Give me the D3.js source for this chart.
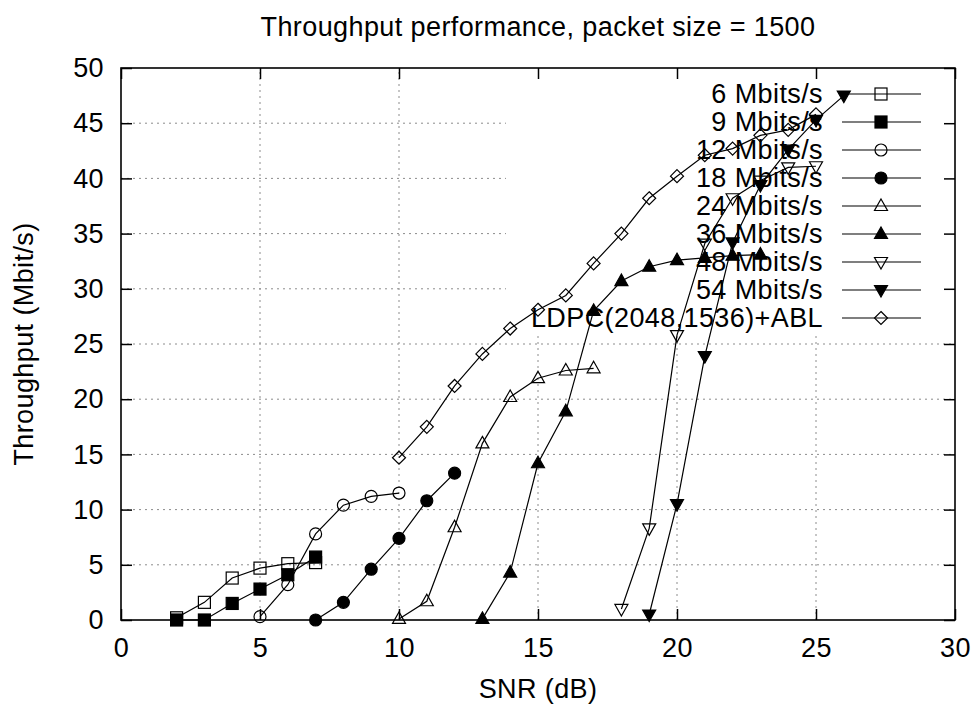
<!DOCTYPE html>
<html>
<head>
<meta charset="utf-8">
<script src="https://cdn.jsdelivr.net/npm/d3@7"></script>
<style>
  body { margin: 0; background: #fff; }
  text { font-family: "Liberation Sans", Arial, sans-serif; font-size: 27px; letter-spacing: 0.4px; fill: #000; }
</style>
</head>
<body>
<div id="chart"></div>
<script>

// values
var seriesNames = ["6 Mbits/s", "9 Mbits/s", "12 Mbits/s", "18 Mbits/s", "24 Mbits/s",
	"36 Mbits/s", "48 Mbits/s", "54 Mbits/s", "LDPC(2048,1536)+ABL"];

var snr6 = [2, 3, 4, 5, 6, 7];
var thr6 = [0.2, 1.6, 3.8, 4.7, 5.1, 5.2];

var snr9 = [2, 3, 4, 5, 6, 7];
var thr9 = [0, 0, 1.5, 2.8, 4.1, 5.7];

var snr12 = [5, 6, 7, 8, 9, 10];
var thr12 = [0.3, 3.2, 7.8, 10.4, 11.2, 11.5];

var snr18 = [7, 8, 9, 10, 11, 12];
var thr18 = [0, 1.6, 4.6, 7.4, 10.8, 13.3];

var snr24 = [10, 11, 12, 13, 14, 15, 16, 17];
var thr24 = [0.1, 1.7, 8.4, 16.0, 20.2, 21.9, 22.6, 22.8];

var snr36 = [13, 14, 15, 16, 17, 18, 19, 20, 21, 22, 23];
var thr36 = [0.1, 4.3, 14.2, 18.9, 28.0, 30.7, 32.0, 32.6, 32.8, 33.0, 33.1];

var snr48 = [18, 19, 20, 21, 22, 23, 24, 25];
var thr48 = [1.0, 8.3, 25.8, 34.1, 38.2, 39.8, 41.0, 41.1];

var snr54 = [19, 20, 21, 22, 23, 24, 25, 26];
var thr54 = [0.5, 10.5, 23.9, 34.2, 39.4, 42.6, 45.3, 47.5];

var snrLdpc = [10, 11, 12, 13, 14, 15, 16, 17, 18, 19, 20, 21, 22, 23, 24, 25];
var thrLdpc = [14.7, 17.5, 21.2, 24.1, 26.4, 28.1, 29.4, 32.3, 35.0, 38.2, 40.2, 42.1, 42.7, 43.9, 44.4, 45.8];

var xTicks = [0, 5, 10, 15, 20, 25, 30];
var yTicks = [0, 5, 10, 15, 20, 25, 30, 35, 40, 45, 50];

var allSnr = [snr6, snr9, snr12, snr18, snr24, snr36, snr48, snr54, snrLdpc];
var allThr = [thr6, thr9, thr12, thr18, thr24, thr36, thr48, thr54, thrLdpc];
var markers = ["squareOpen", "squareFilled", "circleOpen", "circleFilled", "triUpOpen",
	"triUpFilled", "triDownOpen", "triDownFilled", "diamondOpen"];

var width = 974, height = 704;
var margin = {left: 121, right: 19, top: 68, bottom: 84};

var x = d3.scaleLinear().domain([0, 30]).range([margin.left, width - margin.right]);
var y = d3.scaleLinear().domain([0, 50]).range([height - margin.bottom, margin.top]);

var svg = d3.select("#chart").append("svg")
	.attr("width", width)
	.attr("height", height);

// grid
var grid = svg.append("g")
	.attr("stroke", "#8c8c8c")
	.attr("stroke-width", 1)
	.attr("stroke-dasharray", "2,4");

grid.selectAll(".gx")
	.data(xTicks.slice(1, -1))
	.enter().append("line")
	.attr("x1", function(d) { return x(d); })
	.attr("x2", function(d) { return x(d); })
	.attr("y1", y(0))
	.attr("y2", y(50));

grid.selectAll(".gy")
	.data(yTicks.slice(1, -1))
	.enter().append("line")
	.attr("x1", x(0))
	.attr("x2", x(30))
	.attr("y1", function(d) { return y(d); })
	.attr("y2", function(d) { return y(d); });

// key area hides the grid behind it
svg.append("rect")
	.attr("x", 506)
	.attr("y", y(50) + 1)
	.attr("width", x(30) - 506 - 1)
	.attr("height", 335 - y(50))
	.attr("fill", "#fff");

// axes with inward ticks on all four sides
var tickLen = 11;

var xAxis = svg.append("g")
	.attr("transform", "translate(0," + y(0) + ")")
	.call(d3.axisBottom(x).tickValues(xTicks).tickSize(-tickLen).tickPadding(18));
var xAxisTop = svg.append("g")
	.attr("transform", "translate(0," + y(50) + ")")
	.call(d3.axisTop(x).tickValues(xTicks).tickSize(-tickLen).tickFormat(""));
var yAxis = svg.append("g")
	.attr("transform", "translate(" + x(0) + ",0)")
	.call(d3.axisLeft(y).tickValues(yTicks).tickSize(-tickLen).tickPadding(17));
var yAxisRight = svg.append("g")
	.attr("transform", "translate(" + x(30) + ",0)")
	.call(d3.axisRight(y).tickValues(yTicks).tickSize(-tickLen).tickFormat(""));

[xAxis, xAxisTop, yAxis, yAxisRight].forEach(function(a) {
	a.select(".domain").remove();
	a.selectAll(".tick line").attr("stroke", "#000").attr("stroke-width", 1.5);
	a.selectAll("text").attr("font-size", null).attr("font-family", null).attr("fill", "#000");
});

svg.append("rect")
	.attr("x", x(0))
	.attr("y", y(50))
	.attr("width", x(30) - x(0))
	.attr("height", y(0) - y(50))
	.attr("fill", "none")
	.attr("stroke", "#000")
	.attr("stroke-width", 1.6);

// markers
function drawMarker(g, type) {
	var filled = type.indexOf("Filled") >= 0;
	var shape;
	if (type.indexOf("square") === 0) {
		shape = g.append("rect").attr("x", -6).attr("y", -6).attr("width", 12).attr("height", 12);
	} else if (type.indexOf("circle") === 0) {
		shape = g.append("circle").attr("r", 6);
	} else if (type.indexOf("triUp") === 0) {
		shape = g.append("path").attr("d", "M0,-7L6.5,4.5L-6.5,4.5Z");
	} else if (type.indexOf("triDown") === 0) {
		shape = g.append("path").attr("d", "M0,7L6.5,-4.5L-6.5,-4.5Z");
	} else {
		shape = g.append("path").attr("d", "M0,-6.5L6.5,0L0,6.5L-6.5,0Z");
	}
	shape.attr("fill", filled ? "#000" : "none")
		.attr("stroke", "#000")
		.attr("stroke-width", 1.2);
}

var line = d3.line()
	.x(function(d) { return x(d[0]); })
	.y(function(d) { return y(d[1]); });

var plot = svg.append("g");

allSnr.forEach(function(snr, i) {
	var pts = snr.map(function(s, j) { return [s, allThr[i][j]]; });
	plot.append("path")
		.datum(pts)
		.attr("d", line)
		.attr("fill", "none")
		.attr("stroke", "#000")
		.attr("stroke-width", 1.2);
	plot.selectAll(".m" + i)
		.data(pts)
		.enter().append("g")
		.attr("transform", function(d) { return "translate(" + x(d[0]) + "," + y(d[1]) + ")"; })
		.each(function() { drawMarker(d3.select(this), markers[i]); });
});

// key
var key = svg.append("g");
seriesNames.forEach(function(name, i) {
	var cy = 94 + i * 28;
	key.append("text")
		.attr("x", 823)
		.attr("y", cy + 9)
		.attr("text-anchor", "end")
		.text(name);
	key.append("line")
		.attr("x1", 842).attr("x2", 921)
		.attr("y1", cy).attr("y2", cy)
		.attr("stroke", "#000")
		.attr("stroke-width", 1.2);
	drawMarker(key.append("g").attr("transform", "translate(881," + cy + ")"), markers[i]);
});

// titles
svg.append("text")
	.attr("x", (x(0) + x(30)) / 2)
	.attr("y", 36)
	.attr("text-anchor", "middle")
	.text("Throughput performance, packet size = 1500");

svg.append("text")
	.attr("x", (x(0) + x(30)) / 2)
	.attr("y", 698)
	.attr("text-anchor", "middle")
	.text("SNR (dB)");

svg.append("text")
	.attr("transform", "translate(33," + (y(0) + y(50)) / 2 + ") rotate(-90)")
	.attr("text-anchor", "middle")
	.text("Throughput (Mbit/s)");

</script>
</body>
</html>
